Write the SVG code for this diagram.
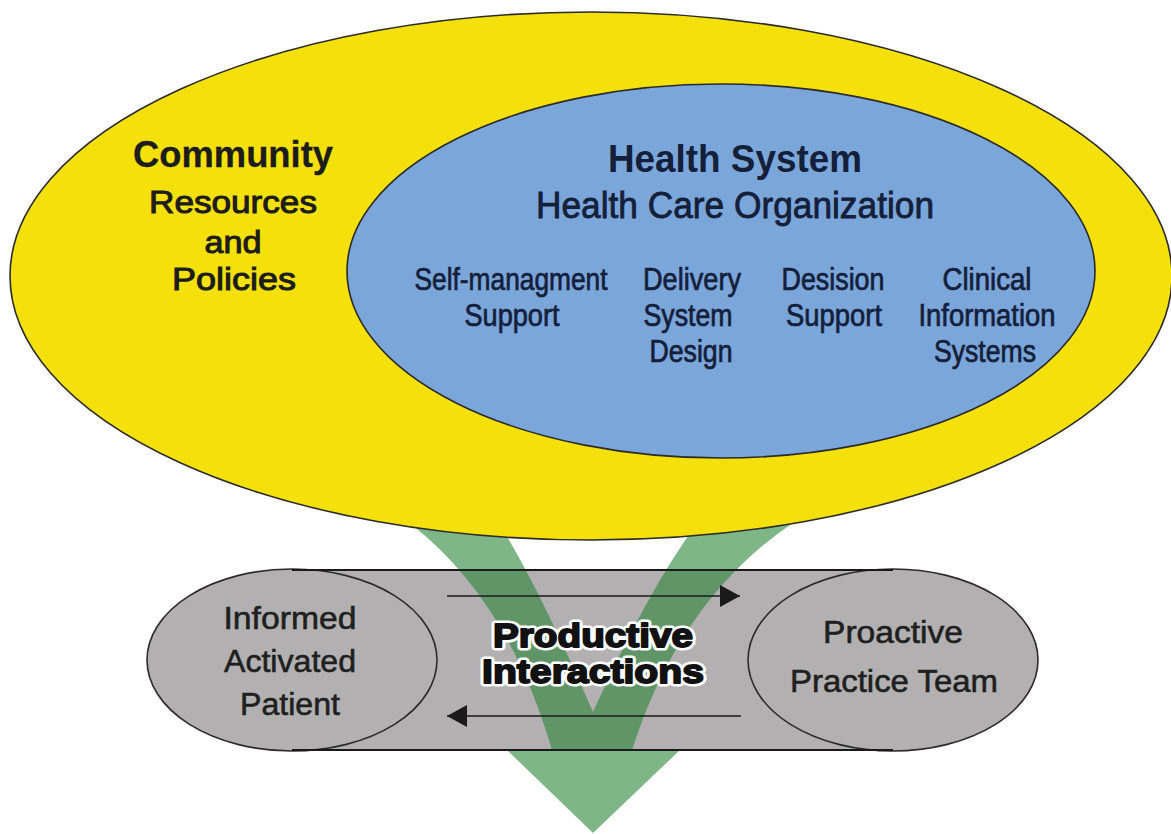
<svg xmlns="http://www.w3.org/2000/svg" width="1171" height="834" viewBox="0 0 1171 834">
  <defs>
    <marker id="arrowHead" viewBox="0 0 20 22" refX="20" refY="11" markerWidth="20" markerHeight="22" markerUnits="userSpaceOnUse" orient="auto">
      <path d="M0,0 L20,11 L0,22 Z" fill="#1a1a1a"/>
    </marker>
  </defs>
  <style>
    .outline { stroke: #2b2b2b; stroke-width: 1.6; }
    .community { font-family: "Liberation Sans", Arial, sans-serif; fill: #1c1c1c; stroke: #1c1c1c; text-anchor: middle; }
    .hs { font-family: "Liberation Sans", Arial, sans-serif; fill: #14203a; stroke: #14203a; text-anchor: middle; }
    .comp { font-family: "Liberation Sans", Arial, sans-serif; fill: #14203a; stroke: #14203a; stroke-width: 0.7; text-anchor: middle; font-size: 31px; }
    .actor { font-family: "Liberation Sans", Arial, sans-serif; fill: #1f1f1f; stroke: #1f1f1f; stroke-width: 0.6; text-anchor: middle; font-size: 32px; }
    .pi { font-family: "Liberation Sans", Arial, sans-serif; font-weight: bold; text-anchor: middle; font-size: 33px; }
    .pi-halo { fill: #ffffff; stroke: #ffffff; stroke-width: 7; stroke-linejoin: round; }
    .pi-ink { fill: #111111; stroke: #111111; stroke-width: 1.8; stroke-linejoin: round; }
    .flow { stroke: #1a1a1a; stroke-width: 1.6; fill: none; marker-end: url(#arrowHead); }
  </style>

  <rect width="1171" height="834" fill="#ffffff"/>

  <!-- Interaction band between patient and practice team -->
  <g id="interaction-band">
    <rect x="292" y="570" width="601" height="180" fill="#b2b0b0"/>
  </g>

  <g id="patient">
    <ellipse cx="292" cy="660" rx="145" ry="91" fill="#b2b0b0" class="outline"/>
    <text class="actor" x="290" y="629" textLength="133" lengthAdjust="spacingAndGlyphs">Informed</text>
    <text class="actor" x="290" y="672" textLength="132" lengthAdjust="spacingAndGlyphs">Activated</text>
    <text class="actor" x="290" y="715" textLength="100" lengthAdjust="spacingAndGlyphs">Patient</text>
  </g>

  <g id="practice-team">
    <ellipse cx="893" cy="660" rx="145" ry="91" fill="#b2b0b0" class="outline"/>
    <text class="actor" x="893" y="643" textLength="140" lengthAdjust="spacingAndGlyphs">Proactive</text>
    <text class="actor" x="894" y="692" textLength="208" lengthAdjust="spacingAndGlyphs">Practice Team</text>
  </g>

  <!-- Green V flowing from the system down through the interactions -->
  <g id="outcome-arrow">
    <path d="M380,500 L412,525 Q508,600 552,750 L507,750 L593,833 L680,750 L632,750 Q680,600 790,525 L822,500 L706,500 L696,525 Q648,590 593,712 Q540,590 500,525 L490,500 Z" fill="#2a8637" fill-opacity="0.6"/>
  </g>

  <g id="connectors">
    <line x1="292" y1="570" x2="893" y2="570" stroke="#1a1a1a" stroke-width="2.2"/>
    <line x1="292" y1="750" x2="893" y2="750" stroke="#1a1a1a" stroke-width="2.2"/>
    <line class="flow" x1="447" y1="596" x2="740" y2="596"/>
    <line class="flow" x1="741" y1="716" x2="447" y2="716"/>
  </g>

  <g id="productive-interactions">
    <text class="pi pi-halo" x="593" y="647" textLength="200" lengthAdjust="spacingAndGlyphs">Productive</text>
    <text class="pi pi-halo" x="593" y="683" textLength="222" lengthAdjust="spacingAndGlyphs">Interactions</text>
    <text class="pi pi-ink" x="593" y="647" textLength="200" lengthAdjust="spacingAndGlyphs">Productive</text>
    <text class="pi pi-ink" x="593" y="683" textLength="222" lengthAdjust="spacingAndGlyphs">Interactions</text>
  </g>

  <!-- Community: outer ellipse -->
  <g id="community">
    <ellipse cx="591" cy="276" rx="581" ry="264" fill="#f4e00b" class="outline"/>
    <text class="community" x="233" y="167" font-size="37" font-weight="bold" stroke-width="0.3" textLength="200" lengthAdjust="spacingAndGlyphs">Community</text>
    <text class="community" x="233" y="213" font-size="31" stroke-width="1" textLength="168" lengthAdjust="spacingAndGlyphs">Resources</text>
    <text class="community" x="233" y="253" font-size="31" stroke-width="1" textLength="57" lengthAdjust="spacingAndGlyphs">and</text>
    <text class="community" x="234" y="290" font-size="31" stroke-width="1" textLength="124" lengthAdjust="spacingAndGlyphs">Policies</text>
  </g>

  <!-- Health system: inner ellipse -->
  <g id="health-system">
    <ellipse cx="721" cy="271" rx="374" ry="187" fill="#7ba6da" class="outline"/>
    <text class="hs" x="735" y="172" font-size="38" font-weight="bold" stroke-width="0" textLength="254" lengthAdjust="spacingAndGlyphs">Health System</text>
    <text class="hs" x="735" y="218" font-size="36" stroke-width="0.8" textLength="398" lengthAdjust="spacingAndGlyphs">Health Care Organization</text>
  </g>

  <g id="self-management-support">
    <text class="comp" x="511" y="290" textLength="193" lengthAdjust="spacingAndGlyphs">Self-managment</text>
    <text class="comp" x="512" y="326" textLength="95" lengthAdjust="spacingAndGlyphs">Support</text>
  </g>

  <g id="delivery-system-design">
    <text class="comp" x="692" y="290" textLength="98" lengthAdjust="spacingAndGlyphs">Delivery</text>
    <text class="comp" x="688" y="326" textLength="89" lengthAdjust="spacingAndGlyphs">System</text>
    <text class="comp" x="691" y="362" textLength="83" lengthAdjust="spacingAndGlyphs">Design</text>
  </g>

  <g id="decision-support">
    <text class="comp" x="833" y="290" textLength="103" lengthAdjust="spacingAndGlyphs">Desision</text>
    <text class="comp" x="834" y="326" textLength="96" lengthAdjust="spacingAndGlyphs">Support</text>
  </g>

  <g id="clinical-information-systems">
    <text class="comp" x="987" y="290" textLength="89" lengthAdjust="spacingAndGlyphs">Clinical</text>
    <text class="comp" x="987" y="326" textLength="137" lengthAdjust="spacingAndGlyphs">Information</text>
    <text class="comp" x="985" y="362" textLength="102" lengthAdjust="spacingAndGlyphs">Systems</text>
  </g>
</svg>
